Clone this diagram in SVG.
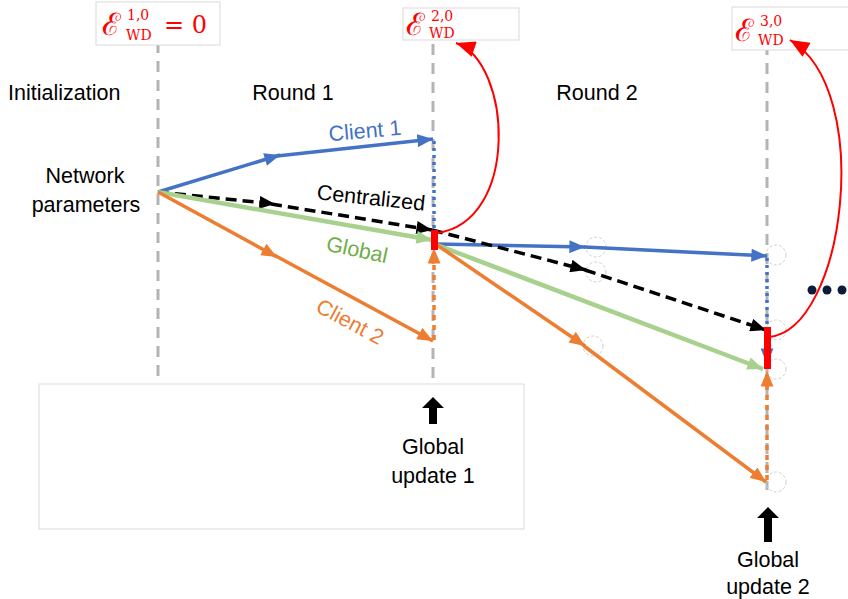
<svg xmlns="http://www.w3.org/2000/svg" width="848" height="599" viewBox="0 0 848 599">
<style>
.t{font-family:"Liberation Sans","Noto Sans",Arial,sans-serif;font-size:21.5px;fill:#000}
.m{font-family:"DejaVu Serif","Liberation Serif",serif;fill:#ff0000}
.vline{stroke:#b4b4b4;stroke-width:3;stroke-dasharray:11 8;fill:none}
.box{fill:#fff;stroke:#d9d9d9;stroke-width:1}
.blue{stroke:#4472c4;stroke-width:3.5;fill:none}
.orange{stroke:#ed7d31;stroke-width:3.5;fill:none}
.green{stroke:#a9d18e;stroke-width:4.5;fill:none}
.black{stroke:#000;stroke-width:3.5;stroke-dasharray:11 6;fill:none}
.circ{fill:none;stroke:#cfcfcf;stroke-width:1;stroke-dasharray:3 2}
</style>
<defs>
<marker id="aBlue" viewBox="0 0 12 10" refX="12" refY="5" markerWidth="16" markerHeight="13" markerUnits="userSpaceOnUse" orient="auto"><path d="M0,0L12,5L0,10z" fill="#4472c4"/></marker>
<marker id="aOrange" viewBox="0 0 12 10" refX="12" refY="5" markerWidth="16" markerHeight="13" markerUnits="userSpaceOnUse" orient="auto"><path d="M0,0L12,5L0,10z" fill="#ed7d31"/></marker>
<marker id="aGreen" viewBox="0 0 12 10" refX="12" refY="5" markerWidth="16" markerHeight="13" markerUnits="userSpaceOnUse" orient="auto"><path d="M0,0L12,5L0,10z" fill="#a9d18e"/></marker>
<marker id="aBlack" viewBox="0 0 12 10" refX="12" refY="5" markerWidth="16" markerHeight="13" markerUnits="userSpaceOnUse" orient="auto"><path d="M0,0L12,5L0,10z" fill="#000"/></marker>
<marker id="aRed" viewBox="0 0 12 10" refX="12" refY="5" markerWidth="20" markerHeight="16" markerUnits="userSpaceOnUse" orient="auto"><path d="M0,0L12,5L0,10z" fill="#ff0000"/></marker>
</defs>
<rect width="848" height="599" fill="#fff"/>

<g id="bottom-box"><rect class="box" x="39" y="384" width="485" height="145"/></g>

<g id="timelines">
<line class="vline" x1="158" y1="42" x2="158" y2="380"/>
<line class="vline" x1="433" y1="44" x2="433" y2="378"/>
<line class="vline" x1="767" y1="44" x2="767" y2="490"/>
</g>

<g id="label-e1"><rect class="box" x="96" y="2" width="124" height="43"/>
<text class="m" x="102" y="35" font-size="31">ℰ</text>
<text class="m" x="127" y="20" font-size="14">1,0</text>
<text class="m" x="126" y="40" font-size="14">WD</text>
<text class="m" x="164" y="33" font-size="24">= 0</text></g>

<g id="label-e2"><rect class="box" x="403" y="8" width="116" height="32"/>
<text class="m" x="406" y="35" font-size="31">ℰ</text>
<text class="m" x="431" y="21" font-size="14">2,0</text>
<text class="m" x="429" y="38" font-size="14">WD</text></g>

<g id="label-e3"><rect class="box" x="732" y="7" width="120" height="43"/>
<text class="m" x="735" y="41" font-size="31">ℰ</text>
<text class="m" x="760" y="26" font-size="14">3,0</text>
<text class="m" x="758" y="45" font-size="14">WD</text></g>

<g id="headers">
<text class="t" x="8" y="100">Initialization</text>
<text class="t" x="293" y="100" text-anchor="middle">Round 1</text>
<text class="t" x="597" y="100" text-anchor="middle">Round 2</text>
</g>

<g id="network-params">
<text class="t" x="85" y="183" text-anchor="middle">Network</text>
<text class="t" x="86" y="212" text-anchor="middle">parameters</text>
</g>

<g id="dashed-circles">
<circle class="circ" cx="596" cy="247" r="10"/>
<circle class="circ" cx="596" cy="272" r="10"/>
<circle class="circ" cx="593" cy="346" r="10"/>
<circle class="circ" cx="776" cy="255" r="10"/>
<circle class="circ" cx="776" cy="330" r="10"/>
<circle class="circ" cx="776" cy="369" r="10"/>
<circle class="circ" cx="776" cy="482" r="10"/>
</g>

<g id="connectors">
<!-- round 1 -->
<path class="blue" d="M158,192L280,155" marker-end="url(#aBlue)"/>
<path class="blue" d="M277,156L433,139" marker-end="url(#aBlue)"/>
<path class="black" d="M158,192L275,204" marker-end="url(#aBlack)"/>
<path class="black" d="M271,204L432,230" marker-end="url(#aBlack)"/>
<path class="green" d="M158,192L432,240" marker-end="url(#aGreen)"/>
<path class="orange" d="M158,192L277,257" marker-end="url(#aOrange)"/>
<path class="orange" d="M274,255L433,341" marker-end="url(#aOrange)"/>
<path class="blue" d="M434,141L434,232" stroke-dasharray="3 4"/>
<path class="orange" d="M434,340L434,248" stroke-dasharray="5 5" marker-end="url(#aOrange)"/>
<!-- round 2 -->
<path class="blue" d="M437,244L585,247" marker-end="url(#aBlue)"/>
<path class="blue" d="M584,247L767,256" marker-end="url(#aBlue)"/>
<path class="black" d="M432,230L586,270" marker-end="url(#aBlack)"/>
<path class="black" d="M585,270L766,330" marker-end="url(#aBlack)"/>
<path class="green" d="M437,245L763,369" marker-end="url(#aGreen)"/>
<path class="orange" d="M437,245L585,346" marker-end="url(#aOrange)"/>
<path class="orange" d="M584,346L766,482" marker-end="url(#aOrange)"/>
<path class="blue" d="M767,258L767,364" stroke-dasharray="3 4" marker-end="url(#aBlue)"/>
<path class="orange" d="M767,480L767,371" stroke-dasharray="5 5" marker-end="url(#aOrange)"/>
<!-- weight divergence arcs -->
<path d="M437,233C520,222 512,62 456,43" fill="none" stroke="#ff0000" stroke-width="2" marker-end="url(#aRed)"/>
<path d="M769,337C845,330 875,90 790,40" fill="none" stroke="#ff0000" stroke-width="2" marker-end="url(#aRed)"/>
</g>

<g id="red-bars">
<rect x="431" y="230" width="7" height="20" fill="#ff0000"/>
<rect x="764" y="327" width="7" height="42" fill="#ff0000"/>
</g>

<g id="line-labels">
<text class="t" x="365" y="138" text-anchor="middle" style="fill:#4472c4" transform="rotate(-5 365 131)">Client 1</text>
<text class="t" x="371" y="205" text-anchor="middle" transform="rotate(6 371 198)">Centralized</text>
<text class="t" x="357" y="257" text-anchor="middle" style="fill:#70ad47" transform="rotate(12 357 250)">Global</text>
<text class="t" x="350" y="329" text-anchor="middle" style="fill:#ed7d31" transform="rotate(28 350 322)">Client 2</text>
</g>

<g id="ellipsis">
<circle cx="812" cy="290" r="4.5" fill="#0d1b3a"/>
<circle cx="827" cy="290" r="4.5" fill="#0d1b3a"/>
<circle cx="842" cy="290" r="4.5" fill="#0d1b3a"/>
</g>

<g id="global-update-1">
<path d="M433,397L444,408L437,408L437,424L429,424L429,408L422,408Z" fill="#000"/>
<text class="t" x="433" y="454" text-anchor="middle">Global</text>
<text class="t" x="433" y="483" text-anchor="middle">update 1</text>
</g>

<g id="global-update-2">
<path d="M768,507L779,518L772,518L772,542L764,542L764,518L757,518Z" fill="#000"/>
<text class="t" x="768" y="567" text-anchor="middle">Global</text>
<text class="t" x="768" y="594" text-anchor="middle">update 2</text>
</g>
</svg>
